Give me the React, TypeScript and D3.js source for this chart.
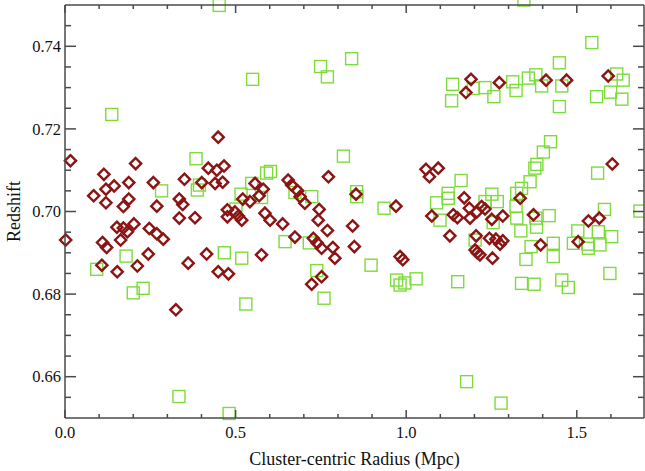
import React from "react";
import * as d3 from "d3";

// Red diamonds (passive / cluster members)
const redX = [0.016,0.002,0.084,0.114,0.120,0.144,0.120,0.207,0.187,0.187,0.171,0.259,0.269,0.350,0.335,0.345,0.335,0.381,0.152,0.171,0.183,0.202,0.163,0.110,0.122,0.247,0.269,0.288,0.244,0.212,0.153,0.108,0.361,0.415,0.449,0.479,0.325,0.420,0.445,0.466,0.401,0.440,0.462,0.449,0.476,0.476,0.498,0.508,0.518,0.557,0.581,0.569,0.521,0.542,0.654,0.664,0.682,0.689,0.703,0.772,0.745,0.742,0.853,0.970,0.586,0.601,0.638,0.674,0.769,0.728,0.739,0.752,0.785,0.791,0.843,0.848,0.576,0.982,0.990,0.752,0.723,1.058,1.094,1.068,1.170,1.075,1.138,1.150,1.185,1.187,1.207,1.221,1.251,1.283,1.205,1.128,1.244,1.263,1.283,1.275,1.202,1.216,1.253,1.334,1.373,1.394,1.504,1.534,1.566,1.604,1.190,1.175,1.273,1.410,1.470,1.592,1.231,1.208];
const redY = [0.7123,0.6931,0.7038,0.7090,0.7054,0.7062,0.7021,0.7116,0.7070,0.7030,0.7012,0.7070,0.7013,0.7078,0.7030,0.7017,0.6984,0.6985,0.6962,0.6960,0.6951,0.6970,0.6931,0.6925,0.6913,0.6959,0.6946,0.6933,0.6897,0.6868,0.6854,0.6870,0.6875,0.6897,0.6854,0.6849,0.6762,0.7105,0.7100,0.7110,0.7070,0.7068,0.7071,0.7180,0.7004,0.6987,0.6999,0.6989,0.6979,0.7068,0.7054,0.7038,0.7030,0.7024,0.7076,0.7064,0.7050,0.7036,0.7020,0.7084,0.7005,0.6979,0.7042,0.7013,0.6996,0.6979,0.6970,0.6938,0.6954,0.6935,0.6924,0.6911,0.6913,0.6887,0.6965,0.6915,0.6895,0.6891,0.6883,0.6842,0.6824,0.7102,0.7105,0.7084,0.7033,0.6989,0.6992,0.6985,0.7008,0.6984,0.6999,0.7012,0.6981,0.6989,0.6941,0.6941,0.6935,0.6933,0.6929,0.6921,0.6907,0.6895,0.6887,0.7032,0.6992,0.6919,0.6927,0.6977,0.6984,0.7115,0.7320,0.7288,0.7312,0.7318,0.7318,0.7328,0.7006,0.6900];

// Green squares
const greenX = [0.452,0.137,0.384,0.550,0.749,0.769,0.840,0.816,1.345,1.544,1.449,1.136,1.133,1.197,1.231,1.257,1.312,1.322,1.358,1.380,1.397,1.456,1.449,1.558,1.599,1.617,1.636,1.632,1.423,1.402,1.561,1.161,1.123,1.123,1.089,1.099,1.231,1.251,1.267,1.255,1.202,1.324,1.338,1.363,1.377,1.383,1.322,1.324,1.336,1.380,1.382,1.419,1.366,1.351,1.431,1.431,1.503,1.490,1.532,1.534,1.568,1.563,1.602,1.581,1.685,1.151,1.029,1.338,1.375,1.456,1.475,1.597,1.177,1.278,0.591,0.602,0.547,0.516,0.576,0.674,0.723,0.855,0.855,0.935,0.501,0.645,0.716,0.518,0.467,0.897,0.972,0.982,0.996,0.738,0.759,0.530,0.481,0.334,0.200,0.229,0.283,0.388,0.394,0.179,0.093];
const greenY = [0.7499,0.7235,0.7128,0.7320,0.7351,0.7326,0.7370,0.7134,0.7512,0.7409,0.7360,0.7308,0.7268,0.7298,0.7300,0.7278,0.7314,0.7293,0.7323,0.7331,0.7304,0.7304,0.7254,0.7278,0.7289,0.7333,0.7318,0.7272,0.7169,0.7144,0.7093,0.7075,0.7044,0.7032,0.7021,0.6979,0.7024,0.7042,0.7024,0.6973,0.6931,0.7044,0.7056,0.7072,0.7105,0.7114,0.7012,0.6984,0.6953,0.6984,0.6962,0.6990,0.6915,0.6884,0.6923,0.6891,0.6953,0.6923,0.6921,0.6911,0.6919,0.6951,0.6939,0.7005,0.7001,0.6830,0.6837,0.6826,0.6824,0.6834,0.6816,0.6850,0.6588,0.6536,0.7093,0.7097,0.7068,0.7042,0.7034,0.7046,0.7036,0.7048,0.7036,0.7008,0.7006,0.6927,0.6924,0.6887,0.6900,0.6870,0.6834,0.6822,0.6827,0.6857,0.6790,0.6776,0.6511,0.6552,0.6803,0.6814,0.7050,0.7052,0.7064,0.6892,0.6860];

const xMajor = [0, 0.5, 1.0, 1.5];
const xLabels = ["0.0", "0.5", "1.0", "1.5"];
const yMajor = [0.66, 0.68, 0.70, 0.72, 0.74];
const yLabels = ["0.66", "0.68", "0.70", "0.72", "0.74"];

const W = 645, H = 471;
const L = 65, R = 644, T = 5, B = 418;

export default function App() {
  const x = d3.scaleLinear().domain([0, 1.7]).range([L, L + 1.7 * 341.2]);
  const y = d3.scaleLinear().domain([0.65, 0.75]).range([B, T]);
  const axisColor = "#4a4a4a";
  const font = "'Liberation Serif', 'Times New Roman', serif";

  const xMinor = d3.range(0, 17).map((i) => i / 10).filter((v) => Math.abs(v * 2 - Math.round(v * 2)) > 1e-6);
  const yMinor = d3.range(0, 21).map((i) => 0.65 + i * 0.005).filter((v) => Math.abs(v * 50 - Math.round(v * 50)) > 1e-6 && v > 0.6501 && v < 0.7499);

  const dHalf = 5.6;
  const sHalf = 6;
  const diamond = (cx: number, cy: number) =>
    `M${cx},${cy - dHalf}L${cx + dHalf},${cy}L${cx},${cy + dHalf}L${cx - dHalf},${cy}Z`;

  return (
    <svg width={W} height={H} style={{ position: "absolute", left: 0, top: 0, background: "#fff" }}>
      <rect x={0} y={0} width={W} height={H} fill="#fff" />
      {/* green squares */}
      <g fill="none" stroke="#7CDC3A" strokeWidth={1.4}>
        {greenX.map((v, i) => (
          <rect key={i} x={x(v) - sHalf} y={y(greenY[i]) - sHalf} width={sHalf * 2} height={sHalf * 2} />
        ))}
      </g>
      {/* red diamonds */}
      <g fill="none" stroke="#8B1414" strokeWidth={2.4} strokeLinejoin="miter">
        {redX.map((v, i) => (
          <path key={i} d={diamond(x(v), y(redY[i]))} />
        ))}
      </g>
      {/* frame */}
      <g stroke={axisColor} strokeWidth={1.5} fill="none">
        <line x1={L} x2={L} y1={T} y2={B} />
        <line x1={L} x2={R} y1={B} y2={B} />
        <line x1={L} x2={R} y1={T} y2={T} />
        <line x1={R} x2={R} y1={T} y2={B} />
        {xMajor.map((v) => (
          <g key={"xM" + v}>
            <line x1={x(v)} x2={x(v)} y1={B} y2={B - 8} />
            <line x1={x(v)} x2={x(v)} y1={T} y2={T + 8} />
          </g>
        ))}
        {xMinor.map((v) => (
          <g key={"xm" + v}>
            <line x1={x(v)} x2={x(v)} y1={B} y2={B - 4} />
            <line x1={x(v)} x2={x(v)} y1={T} y2={T + 4} />
          </g>
        ))}
        {yMajor.map((v) => (
          <g key={"yM" + v}>
            <line x1={L} x2={L + 11} y1={y(v)} y2={y(v)} />
            <line x1={R} x2={R - 11} y1={y(v)} y2={y(v)} />
          </g>
        ))}
        {yMinor.map((v) => (
          <g key={"ym" + v}>
            <line x1={L} x2={L + 6} y1={y(v)} y2={y(v)} />
            <line x1={R} x2={R - 6} y1={y(v)} y2={y(v)} />
          </g>
        ))}
      </g>
      {/* tick labels */}
      <g fontFamily={font} fontSize={16.5} fill="#111">
        {xMajor.map((v, i) => (
          <text key={"xl" + v} x={x(v)} y={438} textAnchor="middle">{xLabels[i]}</text>
        ))}
        {yMajor.map((v, i) => (
          <text key={"yl" + v} x={61} y={y(v)} dy="0.35em" textAnchor="end">{yLabels[i]}</text>
        ))}
      </g>
      <text x={(L + R) / 2} y={465} textAnchor="middle" fontFamily={font} fontSize={18} fill="#111">
        Cluster-centric Radius (Mpc)
      </text>
      <text transform={`translate(19.5,${(T + B) / 2}) rotate(-90)`} textAnchor="middle" fontFamily={font} fontSize={18} fill="#111">
        Redshift
      </text>
    </svg>
  );
}
